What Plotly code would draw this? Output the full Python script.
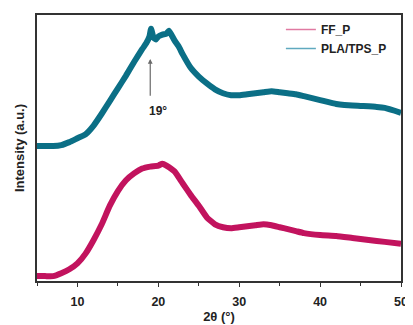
import plotly.graph_objects as go

# 2theta positions (degrees) and intensities (a.u.)
theta_pla = [5, 6, 7, 8, 9, 10, 11, 12, 13, 14, 15, 16, 17, 18, 18.5, 18.9, 19.1, 19.4, 19.7,
             20, 20.5, 21, 21.3, 21.6, 22, 22.5, 23, 24, 25, 26, 27, 28, 29, 30, 31, 32, 33,
             34, 35, 36, 37, 38, 40, 42, 43, 45, 47, 48, 50]
int_pla = [138, 138, 138, 139, 142, 146, 150, 159, 171, 184, 197, 210, 224, 237, 243, 250, 258, 249, 247,
           250, 252, 253, 256, 252, 246, 240, 232, 218, 209, 202, 196, 192, 190, 190, 191, 192, 193,
           194, 193, 192, 191, 189, 185, 181, 180, 179, 178, 177, 172]

theta_ff = [5, 6, 7, 8, 9, 10, 11, 12, 13, 14, 15, 16, 17, 18, 19, 20, 20.5, 21, 22, 23, 24,
            25, 26, 27, 28, 29, 30, 31, 32, 33, 34, 35, 36, 37, 38, 40, 42, 44, 46, 48, 50]
int_ff = [5, 5, 5, 8, 12, 18, 28, 42, 58, 77, 92, 103, 110, 115, 117, 118, 120, 118, 112, 100, 88,
          77, 65, 58, 55, 54, 55, 56, 57, 58, 57, 55, 53, 51, 49, 47, 46, 44, 42, 40, 38]

names = ["FF_P", "PLA/TPS_P"]
colors = ["#c2135e", "#0b6f86"]
legend_colors = ["#e07aa2", "#5fa9bf"]

fig = go.Figure()
fig.add_trace(go.Scatter(x=theta_pla, y=int_pla, mode="lines", showlegend=False,
                         line=dict(color=colors[1], width=6, shape="spline", smoothing=0.4)))
fig.add_trace(go.Scatter(x=theta_ff, y=int_ff, mode="lines", showlegend=False,
                         line=dict(color=colors[0], width=6, shape="spline", smoothing=0.4)))
for n, c in zip(names, legend_colors):
    fig.add_trace(go.Scatter(x=[None], y=[None], mode="lines", name="<b>" + n + "</b>",
                             line=dict(color=c, width=1.5)))

fig.add_annotation(x=19.0, y=227, ax=19.0, ay=188, xref="x", yref="y", axref="x", ayref="y",
                   text="", showarrow=True, arrowhead=2, arrowsize=0.8, arrowwidth=1.2,
                   arrowcolor="#6a6a6a")
fig.add_annotation(x=20.0, y=174, xref="x", yref="y", text="<b>19°</b>", showarrow=False,
                   font=dict(size=12, color="#222"))

fig.update_layout(
    width=405, height=317,
    margin=dict(l=29, r=5, t=5, b=32),
    paper_bgcolor="white", plot_bgcolor="white",
    font=dict(family="Liberation Sans, Arial, sans-serif", size=12, color="#222"),
    legend=dict(x=0.67, y=1.0, xanchor="left", yanchor="top", bgcolor="rgba(0,0,0,0)",
                font=dict(size=12), tracegroupgap=0),
    xaxis=dict(range=[5, 50], tick0=0, dtick=10, ticks="outside", ticklen=4, tickwidth=1.2,
               tickcolor="#333", showline=True, linecolor="#333", linewidth=1.5, mirror=True,
               showgrid=False, zeroline=False, tickfont=dict(size=12.5), ticklabelstandoff=4,
               tickprefix="<b>", ticksuffix="</b>",
               minor=dict(dtick=5, tick0=0, ticks="outside", ticklen=3, tickcolor="#333"),
               title=dict(text="<b>2θ (°)</b>", font=dict(size=13), standoff=2)),
    yaxis=dict(range=[0, 272], showticklabels=False, ticks="", showline=True, linecolor="#333",
               linewidth=1.5, mirror=True, showgrid=False, zeroline=False,
               title=dict(text="<b>Intensity (a.u.)</b>", font=dict(size=13), standoff=8)),
)

fig.write_html("out.html")
